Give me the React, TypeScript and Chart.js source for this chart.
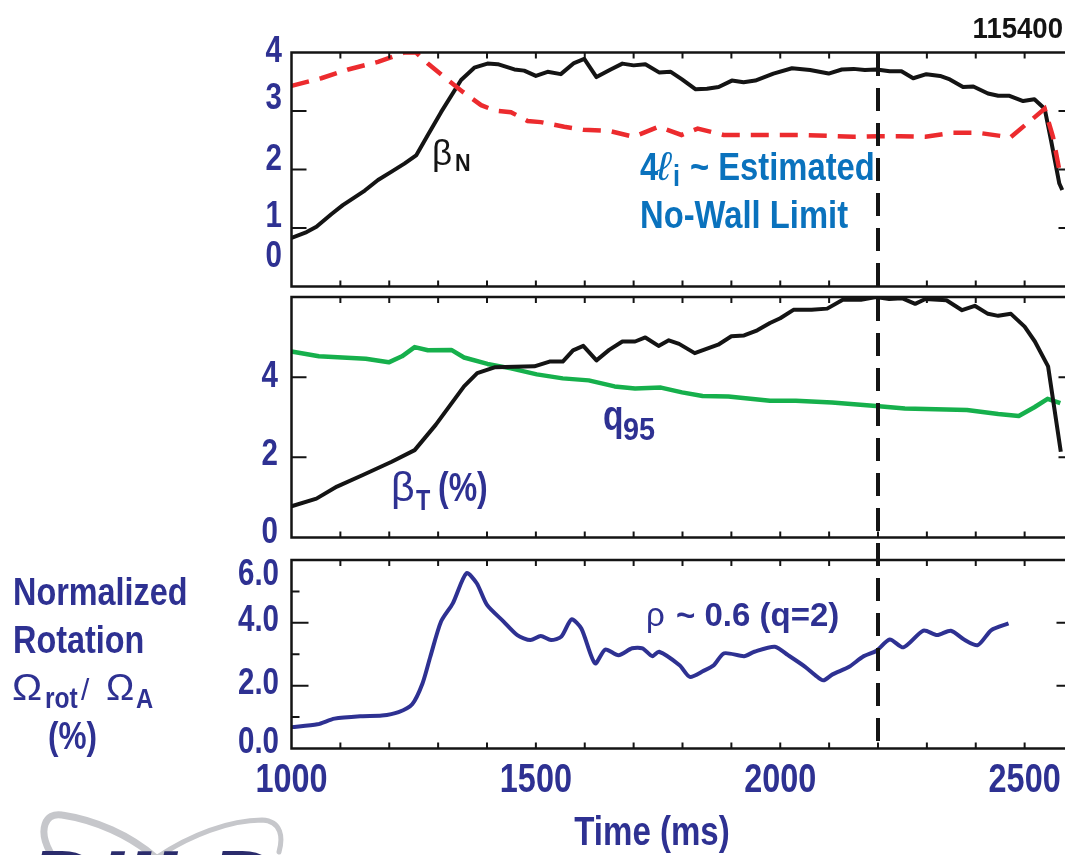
import React, { useEffect, useRef } from "react";
import { Chart, registerables } from "chart.js";
Chart.register(...registerables);

// ---------- data ----------
const betaNTime = [1000,1031,1051,1082,1105,1150,1177,1204,1231,1255,1279,1306,1347,1374,1401,1422,1456,1476,1500,1524,1551,1578,1599,1624,1653,1677,1700,1724,1752,1776,1799,1827,1850,1874,1901,1925,1949,1986,2024,2061,2099,2126,2150,2173,2197,2224,2248,2272,2299,2327,2347,2374,2395,2425,2446,2469,2497,2520,2541,2554,2571,2577];
const betaNValue = [0.83,0.93,1.02,1.24,1.39,1.64,1.82,1.96,2.10,2.24,2.59,2.98,3.53,3.74,3.81,3.80,3.71,3.69,3.60,3.67,3.63,3.82,3.89,3.58,3.71,3.81,3.78,3.80,3.66,3.67,3.54,3.37,3.38,3.41,3.52,3.49,3.52,3.64,3.73,3.70,3.64,3.71,3.72,3.70,3.71,3.68,3.68,3.56,3.63,3.60,3.54,3.41,3.42,3.30,3.26,3.26,3.17,3.20,3.04,2.50,1.76,1.65];

const liTime = [1000,1061,1116,1177,1231,1255,1279,1320,1350,1388,1415,1449,1483,1510,1558,1597,1650,1700,1751,1798,1831,1884,1980,2041,2150,2202,2245,2297,2354,2403,2471,2517,2541,2558,2571,2582];
const liValue = [3.43,3.56,3.71,3.84,4.0,4.0,3.81,3.53,3.33,3.10,3.01,2.98,2.83,2.81,2.73,2.68,2.66,2.56,2.73,2.59,2.70,2.59,2.59,2.59,2.56,2.57,2.57,2.56,2.63,2.63,2.55,2.87,3.04,2.56,1.99,1.92];

const betaTTime = [1000,1051,1093,1146,1205,1252,1295,1353,1380,1417,1497,1528,1555,1576,1597,1624,1650,1677,1703,1724,1751,1772,1793,1825,1873,1900,1926,1953,1979,2000,2027,2064,2096,2128,2165,2196,2223,2249,2276,2297,2340,2372,2398,2425,2446,2472,2500,2521,2548,2574];
const betaTValue = [0.78,0.97,1.27,1.56,1.89,2.18,2.81,3.77,4.10,4.25,4.27,4.39,4.39,4.67,4.78,4.42,4.68,4.89,4.89,4.99,4.78,4.92,4.83,4.60,4.81,5.02,5.04,5.17,5.35,5.47,5.68,5.68,5.71,5.93,5.93,6.0,5.95,5.97,5.83,5.95,5.92,5.67,5.78,5.58,5.53,5.58,5.26,4.89,4.27,2.14];

const q95Time = [1000,1056,1152,1199,1226,1252,1279,1327,1353,1401,1449,1502,1555,1608,1661,1703,1756,1799,1841,1894,1979,2032,2106,2196,2255,2318,2382,2446,2488,2520,2547,2573];
const q95Value = [4.64,4.52,4.46,4.37,4.52,4.75,4.67,4.68,4.49,4.33,4.22,4.07,3.97,3.92,3.77,3.72,3.74,3.62,3.53,3.52,3.41,3.41,3.37,3.28,3.22,3.20,3.18,3.08,3.03,3.25,3.46,3.35];

const rotTime = [1000,1053,1088,1143,1185,1219,1247,1268,1284,1306,1330,1358,1379,1400,1434,1462,1489,1510,1531,1552,1573,1593,1621,1642,1669,1697,1718,1738,1752,1794,1815,1843,1864,1885,1926,1947,1989,2016,2051,2072,2088,2107,2141,2169,2197,2224,2252,2293,2321,2349,2376,2404,2432,2467];
const rotValue = [0.68,0.77,0.95,1.03,1.05,1.16,1.41,2.07,2.92,4.04,4.62,5.58,5.26,4.57,4.04,3.61,3.45,3.58,3.45,3.56,4.11,3.82,2.71,3.15,2.97,3.19,3.19,2.94,3.08,2.65,2.28,2.47,2.65,3.03,2.94,3.08,3.24,2.97,2.60,2.33,2.17,2.36,2.60,2.92,3.11,3.47,3.22,3.75,3.61,3.75,3.47,3.29,3.77,3.98];

const markerTime = 2200;
const xTickValues = [1000, 1500, 2000, 2500];
const xTickLabels = ["1000", "1500", "2000", "2500"];
const p1LabelValues = [0, 1, 2, 3, 4];
const p1Labels = ["0", "1", "2", "3", "4"];
const p2LabelValues = [0, 2, 4];
const p2Labels = ["0", "2", "4"];
const p3LabelValues = [0, 2, 4, 6];
const p3Labels = ["0.0", "2.0", "4.0", "6.0"];

// ---------- style ----------
const INK = "#141414";
const NAVY = "#2e3192";
const BLUE = "#0a72bd";
const RED = "#ec2b2e";
const GREEN = "#16b04c";
const FAM = '"Liberation Sans", Arial, Helvetica, sans-serif';
const CANVAS_W = 1090;
const PAD_LEFT = 291.5;
const PAD_RIGHT = 16.5;
const MARK_TOP = 53;
const MARK_BOTTOM = 742;
const p1Shift = [-19.5, -1, 0, -2, 9.5];
const p2Shift = [5.5, 7.7, 9.8];
const p3Shift = [4.5, 8, 8.5, 25];

type TOpt = { size: number; sx?: number; color?: string; weight?: string; style?: string; align?: "left" | "right" | "center" };

function T(ctx: CanvasRenderingContext2D, s: string, x: number, y: number, o: TOpt) {
  ctx.save();
  ctx.font = `${o.style || "normal"} ${o.weight || "bold"} ${o.size}px ${FAM}`;
  ctx.fillStyle = o.color || NAVY;
  ctx.textBaseline = "alphabetic";
  ctx.textAlign = "left";
  const sx = o.sx ?? 0.82;
  const w = ctx.measureText(s).width * sx;
  let left = x;
  if (o.align === "right") left = x - w;
  else if (o.align === "center") left = x - w / 2;
  ctx.translate(left, y);
  ctx.scale(sx, 1);
  ctx.fillText(s, 0, 0);
  ctx.restore();
  return left + w;
}

function pts(t: number[], v: number[]) {
  return t.map((x, i) => ({ x, y: v[i] }));
}

function tickValues(scale: any, step: number) {
  if (scale.ticks && scale.ticks.length) return scale.ticks.map((t: any) => t.value);
  const out: number[] = [];
  for (let v = scale.min; v <= scale.max + 1e-9; v += step) out.push(v);
  return out;
}

function drawFrame(chart: any, xStep: number, yStep: number, yLen: (v: number) => number) {
  const ctx: CanvasRenderingContext2D = chart.ctx;
  const { left, right, top, bottom } = chart.chartArea;
  ctx.save();
  ctx.strokeStyle = INK;
  ctx.lineWidth = 2.5;
  ctx.strokeRect(left, top, right - left, bottom - top);
  ctx.lineWidth = 2;
  const xs = chart.scales.x;
  ctx.beginPath();
  for (const v of tickValues(xs, xStep)) {
    const px = xs.getPixelForValue(v);
    if (px <= left + 1 || px >= right - 1) continue;
    ctx.moveTo(px, top);
    ctx.lineTo(px, top + 6);
    ctx.moveTo(px, bottom);
    ctx.lineTo(px, bottom - 6);
  }
  const ys = chart.scales.y;
  for (const v of tickValues(ys, yStep)) {
    const py = ys.getPixelForValue(v);
    if (py <= top + 1 || py >= bottom - 1) continue;
    const L = yLen(v);
    ctx.moveTo(left, py);
    ctx.lineTo(left + L, py);
    ctx.moveTo(right, py);
    ctx.lineTo(right - L, py);
  }
  ctx.stroke();
  ctx.restore();
}

function drawMarker(chart: any, canvasTop: number) {
  const ctx: CanvasRenderingContext2D = chart.ctx;
  const xs = chart.scales.x;
  const px = xs.getPixelForValue(markerTime);
  const g0 = Math.max(MARK_TOP, canvasTop);
  const g1 = Math.min(MARK_BOTTOM, canvasTop + chart.height);
  if (g1 <= g0) return;
  ctx.save();
  ctx.strokeStyle = INK;
  ctx.lineWidth = 4;
  ctx.setLineDash([23, 12]);
  ctx.lineDashOffset = g0 - MARK_TOP;
  ctx.beginPath();
  ctx.moveTo(px, g0 - canvasTop);
  ctx.lineTo(px, g1 - canvasTop);
  ctx.stroke();
  ctx.restore();
}

function yLabels(chart: any, canvasTop: number, values: number[], labels: string[], shifts: number[], rightX: number) {
  const ctx: CanvasRenderingContext2D = chart.ctx;
  const ys = chart.scales.y;
  values.forEach((v, i) => {
    const py = ys.getPixelForValue(v) + canvasTop + shifts[i];
    T(ctx, labels[i], rightX, py, { size: 36, sx: 0.82, align: "right" });
  });
}

function baseOptions(yMin: number, yMax: number, yStep: number, padTop: number, padBottom: number) {
  return {
    responsive: false,
    animation: false as const,
    devicePixelRatio: 1,
    events: [],
    layout: { padding: { left: PAD_LEFT, right: PAD_RIGHT, top: padTop, bottom: padBottom } },
    plugins: { legend: { display: false }, tooltip: { enabled: false }, title: { display: false } },
    elements: { point: { radius: 0 } },
    scales: {
      x: { type: "linear" as const, min: 1000, max: 2600, display: false, ticks: { stepSize: 100 } },
      y: { type: "linear" as const, min: yMin, max: yMax, display: false, ticks: { stepSize: yStep } },
    },
  };
}

const P1 = { top: 0, height: 292, padTop: 52.5, padBottom: 5.5 };
const P2 = { top: 292, height: 256, padTop: 5, padBottom: 10.5 };
const P3 = { top: 548, height: 307, padTop: 12, padBottom: 106.5 };

export default function App() {
  const r1 = useRef<HTMLCanvasElement>(null);
  const r2 = useRef<HTMLCanvasElement>(null);
  const r3 = useRef<HTMLCanvasElement>(null);

  useEffect(() => {
    const charts: Chart[] = [];

    // ---- panel 1 ----
    charts.push(
      new Chart(r1.current!, {
        type: "line",
        data: {
          datasets: [
            { data: pts(liTime, liValue), borderColor: RED, borderWidth: 4.5, borderDash: [18, 11], pointRadius: 0, tension: 0, fill: false },
            { data: pts(betaNTime, betaNValue), borderColor: INK, borderWidth: 4, pointRadius: 0, tension: 0, fill: false, borderJoinStyle: "round" },
          ],
        },
        options: baseOptions(0, 4, 1, P1.padTop, P1.padBottom) as any,
        plugins: [
          {
            id: "p1deco",
            afterDatasetsDraw(chart: any) {
              drawFrame(chart, 100, 1, () => 15);
              drawMarker(chart, P1.top);
              const ctx: CanvasRenderingContext2D = chart.ctx;
              ctx.save();
              ctx.translate(0, -P1.top);
              yLabels(chart, P1.top, p1LabelValues, p1Labels, p1Shift, 282);
              T(ctx, "115400", 1063, 38, { size: 29, sx: 0.95, color: INK, align: "right" });
              T(ctx, "β", 432, 165, { size: 35, weight: "normal", sx: 1, color: INK });
              T(ctx, "N", 455, 171, { size: 24, sx: 0.9, color: INK });
              T(ctx, "4", 640, 180, { size: 39, sx: 0.84, color: BLUE });
              T(ctx, "ℓ", 657, 180, { size: 40, weight: "normal", style: "italic", sx: 1.05, color: BLUE });
              T(ctx, "i", 673, 186, { size: 30, sx: 0.84, color: BLUE });
              T(ctx, "~ Estimated", 690, 180, { size: 39, sx: 0.84, color: BLUE });
              T(ctx, "No-Wall Limit", 640, 228, { size: 39, sx: 0.84, color: BLUE });
              ctx.restore();
            },
          },
        ],
      })
    );

    // ---- panel 2 ----
    charts.push(
      new Chart(r2.current!, {
        type: "line",
        data: {
          datasets: [
            { data: pts(betaTTime, betaTValue), borderColor: INK, borderWidth: 4, pointRadius: 0, tension: 0, fill: false, borderJoinStyle: "round" },
            { data: pts(q95Time, q95Value), borderColor: GREEN, borderWidth: 4.5, pointRadius: 0, tension: 0, fill: false, borderJoinStyle: "round" },
          ],
        },
        options: baseOptions(0, 6, 2, P2.padTop, P2.padBottom) as any,
        plugins: [
          {
            id: "p2deco",
            afterDatasetsDraw(chart: any) {
              drawFrame(chart, 100, 2, () => 15);
              drawMarker(chart, P2.top);
              const ctx: CanvasRenderingContext2D = chart.ctx;
              ctx.save();
              ctx.translate(0, -P2.top);
              yLabels(chart, P2.top, p2LabelValues, p2Labels, p2Shift, 278);
              T(ctx, "q", 603, 430, { size: 42, sx: 0.8 });
              T(ctx, "95", 623, 440, { size: 32, sx: 0.9 });
              T(ctx, "β", 391, 501, { size: 41, weight: "normal", sx: 1 });
              T(ctx, "T", 416, 510, { size: 30, sx: 0.78 });
              T(ctx, "(%)", 438, 501, { size: 40, sx: 0.8 });
              ctx.restore();
            },
          },
        ],
      })
    );

    // ---- panel 3 ----
    charts.push(
      new Chart(r3.current!, {
        type: "line",
        data: {
          datasets: [
            { data: pts(rotTime, rotValue), borderColor: NAVY, borderWidth: 4, pointRadius: 0, tension: 0.25, fill: false, borderJoinStyle: "round" },
          ],
        },
        options: baseOptions(0, 6, 1, P3.padTop, P3.padBottom) as any,
        plugins: [
          {
            id: "p3deco",
            afterDatasetsDraw(chart: any) {
              drawFrame(chart, 100, 1, (v) => (Math.round(v) % 2 === 0 ? 17 : 8));
              drawMarker(chart, P3.top);
              const ctx: CanvasRenderingContext2D = chart.ctx;
              const xs = chart.scales.x;
              ctx.save();
              ctx.translate(0, -P3.top);
              yLabels(chart, P3.top, p3LabelValues, p3Labels, p3Shift, 279);
              xTickValues.forEach((v, i) => {
                T(ctx, xTickLabels[i], xs.getPixelForValue(v), 792, { size: 40, sx: 0.81, align: "center" });
              });
              T(ctx, "Time (ms)", 652, 845, { size: 40, sx: 0.826, align: "center" });
              T(ctx, "ρ", 646, 626, { size: 33, weight: "normal", sx: 1 });
              T(ctx, "~ 0.6 (q=2)", 676, 626, { size: 33, sx: 1 });
              // left block
              T(ctx, "Normalized", 13, 605, { size: 39, sx: 0.83 });
              T(ctx, "Rotation", 13, 653, { size: 39, sx: 0.83 });
              T(ctx, "Ω", 12, 700, { size: 36, weight: "normal", sx: 1.12 });
              T(ctx, "rot", 45, 708, { size: 30, sx: 0.82 });
              T(ctx, "/", 81, 700, { size: 30, weight: "normal", sx: 1 });
              T(ctx, "Ω", 106, 700, { size: 36, weight: "normal", sx: 1.05 });
              T(ctx, "A", 136, 708, { size: 28, sx: 0.85 });
              T(ctx, "(%)", 48, 749, { size: 39, sx: 0.81 });
              // logo
              ctx.strokeStyle = "#c6c7cb";
              ctx.lineCap = "round";
              ctx.lineWidth = 7;
              ctx.beginPath();
              ctx.moveTo(50, 852);
              ctx.bezierCurveTo(38, 830, 45, 812, 62, 815);
              ctx.bezierCurveTo(95, 820, 130, 835, 156, 858);
              ctx.stroke();
              ctx.lineWidth = 5;
              ctx.beginPath();
              ctx.moveTo(156, 858);
              ctx.bezierCurveTo(190, 835, 230, 820, 262, 820);
              ctx.bezierCurveTo(282, 821, 283, 838, 279, 852);
              ctx.stroke();
              T(ctx, "DIII-D", 28, 914, { size: 90, sx: 1.06, style: "italic", color: "#2b2c6c" });
              ctx.restore();
            },
          },
        ],
      })
    );

    return () => charts.forEach((c) => c.destroy());
  }, []);

  const cStyle = (top: number, h: number): React.CSSProperties => ({
    position: "absolute",
    left: 0,
    top,
    width: CANVAS_W,
    height: h,
    display: "block",
  });

  return (
    <div style={{ position: "fixed", left: 0, top: 0, width: 1065, height: 855, overflow: "hidden", background: "#fff" }}>
      <canvas ref={r1} width={CANVAS_W} height={P1.height} style={cStyle(P1.top, P1.height)} />
      <canvas ref={r2} width={CANVAS_W} height={P2.height} style={cStyle(P2.top, P2.height)} />
      <canvas ref={r3} width={CANVAS_W} height={P3.height} style={cStyle(P3.top, P3.height)} />
    </div>
  );
}
